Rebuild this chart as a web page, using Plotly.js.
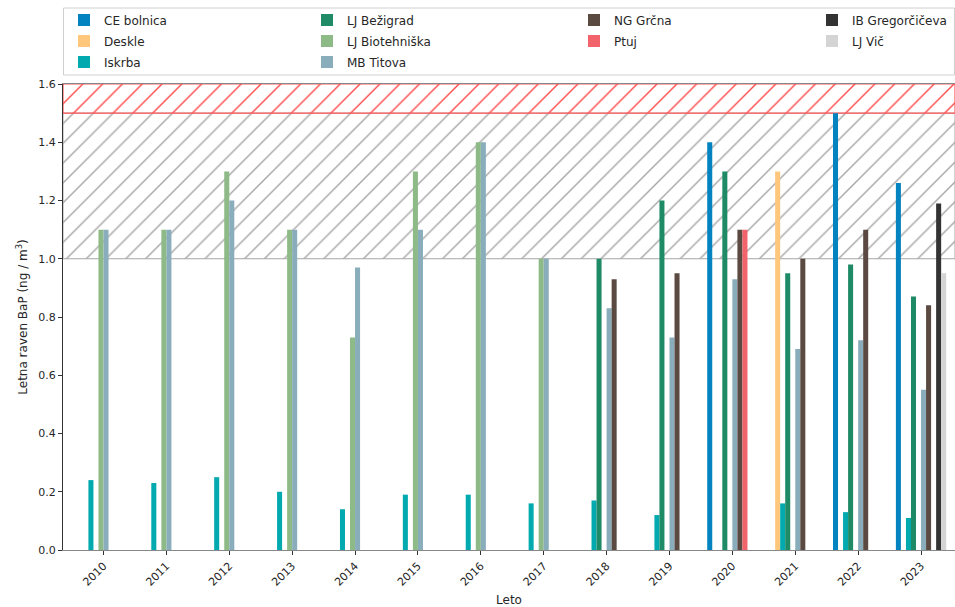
<!DOCTYPE html>
<html>
<head>
<meta charset="utf-8">
<script src="https://cdn.plot.ly/plotly-3.0.1.min.js"></script>
<style>html,body{margin:0;padding:0;background:#fff;}#chart{width:955px;height:607px;}</style>
</head>
<body>
<div id="chart"></div>
<script>
const years = [2010, 2011, 2012, 2013, 2014, 2015, 2016, 2017, 2018, 2019, 2020, 2021, 2022, 2023];
const yearLabels = years.map(String);

const ceBolnica      = [null, null, null, null, null, null, null, null, null, null, 1.40, null, 1.50, 1.26];
const deskle         = [null, null, null, null, null, null, null, null, null, null, null, 1.30, null, null];
const iskrba         = [0.24, 0.23, 0.25, 0.20, 0.14, 0.19, 0.19, 0.16, 0.17, 0.12, null, 0.16, 0.13, 0.11];
const ljBezigrad     = [null, null, null, null, null, null, null, null, 1.00, 1.20, 1.30, 0.95, 0.98, 0.87];
const ljBiotehniska  = [1.10, 1.10, 1.30, 1.10, 0.73, 1.30, 1.40, 1.00, null, null, null, null, null, null];
const mbTitova       = [1.10, 1.10, 1.20, 1.10, 0.97, 1.10, 1.40, 1.00, 0.83, 0.73, 0.93, 0.69, 0.72, 0.55];
const ngGrcna        = [null, null, null, null, null, null, null, null, 0.93, 0.95, 1.10, 1.00, 1.10, 0.84];
const ptuj           = [null, null, null, null, null, null, null, null, null, null, 1.10, null, null, null];
const ibGregorciceva = [null, null, null, null, null, null, null, null, null, null, null, null, null, 1.19];
const ljVic          = [null, null, null, null, null, null, null, null, null, null, null, null, null, 0.95];

const seriesNames = ['CE bolnica', 'Deskle', 'Iskrba', 'LJ Bežigrad', 'LJ Biotehniška', 'MB Titova', 'NG Grčna', 'Ptuj', 'IB Gregorčičeva', 'LJ Vič'];
const seriesValues = [ceBolnica, deskle, iskrba, ljBezigrad, ljBiotehniska, mbTitova, ngGrcna, ptuj, ibGregorciceva, ljVic];
const seriesColors = ['#0383bf', '#fec77c', '#02aab0', '#1f8b66', '#8dba86', '#89adba', '#5b4a42', '#f2636b', '#333333', '#d4d4d4'];
// legend grid: column and row of each series (column-major, 4 columns)
const legendCol = [0, 0, 0, 1, 1, 1, 2, 2, 3, 3];
const legendRow = [0, 1, 2, 0, 1, 2, 0, 1, 0, 1];

// threshold bands
const targetLow = 1.0, targetHigh = 1.5, limitHigh = 1.6;
const xLo = 2009.356, xHi = 2023.54;

const font = 'DejaVu Sans, sans-serif';

// plot-area geometry in pixels (for legend placement in paper coords)
const W = 955, H = 607, ML = 63, MR = 0, MT = 84, MB = 57;
const PW = W - ML - MR, PH = H - MT - MB;
const px2x = p => (p - ML) / PW;
const py2y = p => (H - MB - p) / PH;
const colTextLeft = [64, 307, 574, 812];
const rowCenter = [20, 41, 62];

const bandGray = {
  type: 'scatter', mode: 'lines', xaxis: 'x', yaxis: 'y',
  x: [xLo, xHi, xHi, xLo, xLo], y: [targetLow, targetLow, targetHigh, targetHigh, targetLow],
  fill: 'toself', fillcolor: 'rgba(0,0,0,0)',
  fillpattern: {shape: '/', fgcolor: '#a6a6a6', bgcolor: 'rgba(255,255,255,0)', size: 14, solidity: 0.1},
  line: {color: '#a6a6a6', width: 1}, showlegend: false, hoverinfo: 'skip'
};
const bandRed = {
  type: 'scatter', mode: 'lines', xaxis: 'x', yaxis: 'y',
  x: [xLo, xHi, xHi, xLo, xLo], y: [targetHigh, targetHigh, limitHigh, limitHigh, targetHigh],
  fill: 'toself', fillcolor: 'rgba(0,0,0,0)',
  fillpattern: {shape: '/', fgcolor: '#ff4a4a', bgcolor: 'rgba(255,255,255,0)', size: 14, solidity: 0.1},
  line: {color: '#ff5a5a', width: 1.2}, showlegend: false, hoverinfo: 'skip'
};

const barTraces = seriesNames.map((name, i) => ({
  type: 'bar', name: name, x: years, y: seriesValues[i], xaxis: 'x', yaxis: 'y2',
  marker: {color: seriesColors[i], line: {width: 0}},
  legend: i === 0 ? 'legend' : 'legend' + (i + 1)
}));

const yTicks = [0, 0.2, 0.4, 0.6, 0.8, 1.0, 1.2, 1.4, 1.6];

const layout = {
  width: W, height: H,
  margin: {l: ML, r: MR, t: MT, b: MB},
  paper_bgcolor: '#ffffff', plot_bgcolor: '#ffffff',
  font: {family: font, size: 11, color: '#262626'},
  barmode: 'group', bargap: 0.2, bargroupgap: 0,
  showlegend: true,
  xaxis: {
    type: 'linear', range: [xLo, xHi], tickmode: 'array', tickvals: years, ticktext: yearLabels,
    tickangle: -45, ticks: 'outside', ticklen: 4, tickcolor: '#333',
    showgrid: false, zeroline: false, showline: true, linecolor: '#888888', linewidth: 1.2, mirror: true,
    tickfont: {family: font, size: 11, color: '#262626'},
    title: {text: 'Leto', font: {family: font, size: 12, color: '#262626'}, standoff: 8}
  },
  yaxis: {
    range: [0, limitHigh], tickmode: 'array', tickvals: yTicks, ticktext: yTicks.map(v => v.toFixed(1)),
    ticks: 'outside', ticklen: 4, tickcolor: '#333',
    showgrid: false, zeroline: false, showline: true, linecolor: '#333333', linewidth: 1,
    tickfont: {family: font, size: 11, color: '#262626'},
    title: {text: 'Letna raven BaP (ng / m<sup>3</sup>)', font: {family: font, size: 12, color: '#262626'}, standoff: 8}
  },
  yaxis2: {
    overlaying: 'y', range: [0, limitHigh], visible: false, showgrid: false, zeroline: false
  },
  shapes: [{
    type: 'rect', xref: 'paper', yref: 'paper', layer: 'above',
    x0: px2x(63.5), x1: px2x(954.5), y0: py2y(75), y1: py2y(8),
    line: {color: '#d0d0d0', width: 1}, fillcolor: 'rgba(0,0,0,0)'
  }]
};

seriesNames.forEach((name, i) => {
  const key = i === 0 ? 'legend' : 'legend' + (i + 1);
  layout[key] = {
    x: px2x(colTextLeft[legendCol[i]]), xanchor: 'left',
    y: py2y(rowCenter[legendRow[i]]), yanchor: 'middle',
    orientation: 'v', bgcolor: 'rgba(0,0,0,0)', borderwidth: 0,
    font: {family: font, size: 12, color: '#262626'}, itemwidth: 30
  };
});

Plotly.newPlot('chart', [bandGray, bandRed].concat(barTraces), layout, {displayModeBar: false, staticPlot: true});
</script>
</body>
</html>
